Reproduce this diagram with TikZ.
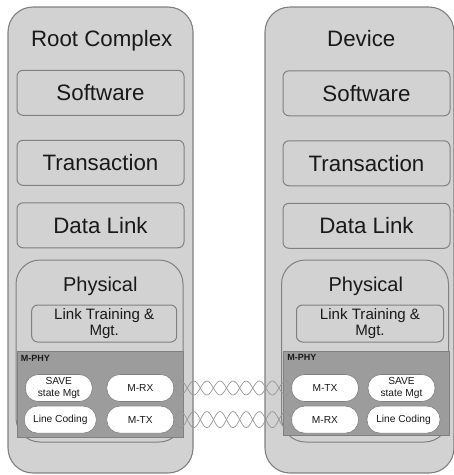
\documentclass[tikz,border=0pt]{standalone}
\usepackage{fontspec}
\setmainfont{Liberation Sans}
\definecolor{grisclaro}{RGB}{210, 210, 210}
\definecolor{grisborde}{RGB}{128, 128, 128}
\definecolor{grisoscuro}{RGB}{156, 156, 156}
\definecolor{grishilo}{RGB}{150, 150, 150}
\definecolor{texto}{RGB}{25, 25, 25}
\usepackage{tikz}
\usetikzlibrary{positioning}

\begin{document}
\begin{tikzpicture}[x=1pt, y=-1pt, every node/.style={inner sep=0pt, text=texto, font=\fontsize{22.3}{26}\selectfont},
    marco/.style={draw=grisborde, fill=grisclaro, line width=1.1pt, rounded corners=25pt,
                  minimum width=185pt, minimum height=466pt},
    capa/.style={draw=grisborde, fill=grisclaro, line width=1pt, rounded corners=6pt,
                 minimum width=167pt, minimum height=45pt},
    fisica/.style={capa, rounded corners=24pt, minimum height=182pt},
    enlace/.style={capa, minimum width=145pt, minimum height=37pt, align=center,
                   font=\fontsize{15.1}{16.5}\selectfont},
    mphy/.style={draw=grisborde, fill=grisoscuro, line width=0.5pt,
                 minimum width=166pt, minimum height=86pt},
    pildora/.style={draw=grisborde, fill=white, line width=0.6pt, rounded corners=13pt,
                    minimum width=67pt, minimum height=27pt, align=center,
                    font=\fontsize{10.2}{12}\selectfont},
    etiqueta/.style={anchor=north west, font=\bfseries\fontsize{9}{10}\selectfont},
    hilo/.style={grishilo, line width=0.7pt}]
  \useasboundingbox (0,0) rectangle (454,475);

  % Root Complex
  \node[marco] (raiz) at (100.5,240) {};
  \node[anchor=base] (traiz) at (101.7,46.7) {Root Complex};
  \node[capa] (soft1) at (100.5,92.8) {Software};
  \node[capa, below=24pt of soft1] (trans1) {Transaction};
  \node[capa, below=16.5pt of trans1] (datos1) {Data Link};
  \node[fisica] (fis1) at (99.5,351) {};
  \node[anchor=base, font=\fontsize{20}{24}\selectfont] (tfis1) at (100.3,291.7) {Physical};
  \node[enlace] (ltm1) at (104.2,323.5) {Link Training \&\\Mgt.};
  \node[mphy] (mp1) at (100,394.5) {};
  \node[etiqueta] at ([shift={(4pt,-3.5pt)}]mp1.north west) {M-PHY};
  \node[pildora] (save1) at (58.8,388) {SAVE\\state Mgt};
  \node[pildora] (lrx) at (140.3,388) {M-RX};
  \node[pildora, minimum width=72pt] (lcod1) at (60.3,419.6) {Line Coding};
  \node[pildora] (ltx) at (140.3,419.6) {M-TX};

  % Device
  \node[marco, minimum width=189pt] (disp) at (359.5,240) {};
  \node[anchor=base] (tdisp) at (361.3,46.7) {Device};
  \node[capa] (soft2) at (366.5,93.3) {Software};
  \node[capa, below=24pt of soft2] (trans2) {Transaction};
  \node[capa, below=16.5pt of trans2] (datos2) {Data Link};
  \node[fisica] (fis2) at (365,351) {};
  \node[anchor=base, font=\fontsize{20}{24}\selectfont] (tfis2) at (365.8,291.7) {Physical};
  \node[enlace, minimum width=147pt] (ltm2) at (370,323.5) {Link Training \&\\Mgt.};
  \node[mphy, minimum height=84pt] (mp2) at (366.5,393) {};
  \node[etiqueta] at ([shift={(4pt,-3.5pt)}]mp2.north west) {M-PHY};
  \node[pildora] (rtx) at (325,388) {M-TX};
  \node[pildora] (save2) at (401.5,388) {SAVE\\state Mgt};
  \node[pildora] (rrx) at (325,419.6) {M-RX};
  \node[pildora, minimum width=73pt] (lcod2) at (403.5,419.6) {Line Coding};

  % twisted pairs
  \foreach \s in {1,-1} {
    \draw[hilo, shift={(lrx.east)}] plot[domain=0:118, samples=109, smooth] (\x, {\s*7*sin(\x*13.73)});
    \draw[hilo, shift={(ltx.east)}] plot[domain=0:118, samples=109, smooth] (\x, {\s*8*sin(\x*13.73)});
  }
\end{tikzpicture}
\end{document}
